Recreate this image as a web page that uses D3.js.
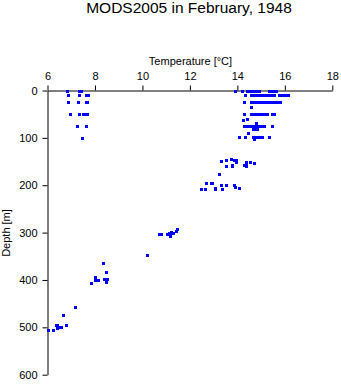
<!DOCTYPE html>
<html>
<head>
<meta charset="utf-8">
<script src="https://cdn.jsdelivr.net/npm/d3@7/dist/d3.min.js"></script>
<style>
  html, body { margin: 0; padding: 0; background: #fff; }
  svg { display: block; font-family: "Liberation Sans", Arial, Helvetica, sans-serif; }
</style>
</head>
<body>
<svg id="chart" width="341" height="384"></svg>
<script>
// ---- Data (temperature °C, depth m) ----
const titleText = "MODS2005 in February, 1948";
const xLabel = "Temperature [\u00B0C]";
const yLabel = "Depth [m]";
const xTicks = [6, 8, 10, 12, 14, 16, 18];
const yTicks = [0, 100, 200, 300, 400, 500, 600];

const temps = [
  // left surface group
  6.81, 7.33, 7.40,
  6.88, 7.34, 7.62, 7.70,
  6.88, 7.30, 7.61, 7.65,
  6.94, 7.34, 7.51, 7.58, 7.65,
  7.26, 7.64,
  7.47,
  // right surface group, 0 m
  13.90, 14.21, 14.40, 14.50, 14.60, 14.70, 14.80, 14.92, 15.33, 15.45, 15.55, 15.62,
  // 10 m
  14.34, 14.56, 14.66, 14.76, 14.86, 14.95, 15.08, 15.16, 15.30, 15.40, 15.50, 15.56,
  15.75, 15.85, 15.95, 16.05, 16.14,
  // 25 m
  14.29, 14.56, 14.66, 14.76, 14.86, 14.96, 15.06, 15.16, 15.29, 15.40, 15.52, 15.60, 15.70, 15.80,
  // 35 m
  14.59,
  // 50 m
  14.27, 14.58, 14.67, 14.77, 14.87, 14.97, 15.07, 15.17, 15.26, 15.47, 15.56,
  // 55-70 m
  14.42, 14.23, 14.79, 14.27,
  // 75 m
  14.42, 14.52, 14.62, 14.72, 14.82, 14.92, 15.02, 15.13, 15.45,
  // 80 m
  14.66, 14.75, 14.83,
  // 90-105 m
  14.44, 14.06, 14.32, 14.65, 14.74, 14.83, 14.93, 15.03, 15.35, 14.70,
  // 145-160 m
  13.32, 13.53, 13.75, 13.85, 13.96, 13.96, 14.38, 14.38, 14.27, 14.38, 14.55, 14.71,
  13.79, 13.76, 13.53,
  // 175-210 m
  13.21, 12.69, 12.88, 12.95, 13.30, 13.52, 13.86, 13.91, 14.06,
  12.48, 12.65, 13.07, 13.05, 13.34,
  // ~300 m
  10.71, 10.78, 11.05, 11.12, 11.19, 11.26, 11.16, 11.30, 11.47, 11.40,
  10.18,
  // ~400 m
  8.35, 8.47, 8.02, 8.02, 8.13, 8.39, 8.51, 8.47, 7.83,
  // ~500 m
  7.17, 6.67, 6.36, 6.41, 6.50, 6.56, 6.39, 6.79, 6.24, 6.03
];

const depths = [
  0, 0, 0,
  10, 10, 10, 10,
  25, 25, 25, 25,
  50, 50, 50, 50, 50,
  75, 75,
  101,
  0, 0, 0, 0, 0, 0, 0, 0, 0, 0, 0, 0,
  10, 10, 10, 10, 10, 10, 10, 10, 10, 10, 10, 10,
  10, 10, 10, 10, 10,
  25, 25, 25, 25, 25, 25, 25, 25, 25, 25, 25, 25, 25, 25,
  35,
  50, 50, 50, 50, 50, 50, 50, 50, 50, 50, 50,
  61, 62, 69, 74,
  75, 75, 75, 75, 75, 75, 75, 75, 75,
  81, 81, 81,
  90, 98, 98, 98, 98, 98, 98, 98, 98, 103,
  148, 147, 145, 147, 147, 150, 151, 155, 157, 160, 150, 154,
  157, 160, 160,
  177, 196, 196, 196, 200, 200, 200, 203, 205,
  209, 209, 206, 209, 209,
  303, 303, 304, 300, 298, 300, 307, 300, 292, 296,
  348,
  365, 383, 394, 400, 400, 398, 398, 404, 407,
  458, 475, 496, 496, 499, 499, 502, 496, 506, 506
];

// ---- Layout ----
const svg = d3.select("#chart");
const x = d3.scaleLinear().domain([6, 18]).range([47.5, 332.3]);
const y = d3.scaleLinear().domain([0, 600]).range([90.5, 374.7]);

svg.append("text")
  .attr("x", 189).attr("y", 13)
  .attr("text-anchor", "middle")
  .attr("font-size", 15.5)
  .text(titleText);

svg.append("text")
  .attr("x", 190.5).attr("y", 64.5)
  .attr("text-anchor", "middle")
  .attr("font-size", 11)
  .text(xLabel);

svg.append("text")
  .attr("transform", "translate(9.5,233) rotate(-90)")
  .attr("text-anchor", "middle")
  .attr("font-size", 11)
  .text(yLabel);

const xAxis = d3.axisTop(x).tickValues(xTicks).tickSize(5).tickSizeOuter(0).tickPadding(6)
  .tickFormat(d3.format("d"));
svg.append("g").attr("transform", `translate(0,${y(0)})`).call(xAxis)
  .call(g => g.selectAll("text").attr("font-size", 11).attr("fill", "#000").attr("font-family", null))
  .call(g => g.selectAll("line, path").attr("stroke", "#000"));

const yAxis = d3.axisLeft(y).tickValues(yTicks).tickSize(5).tickSizeOuter(0).tickPadding(5)
  .tickFormat(d3.format("d"));
svg.append("g").attr("transform", `translate(${x(6)},0)`).call(yAxis)
  .call(g => g.selectAll("text").attr("font-size", 11).attr("fill", "#000").attr("font-family", null))
  .call(g => g.selectAll("line, path").attr("stroke", "#000"));

// ---- Points ----
const pts = temps.map((t, i) => ({ t, d: depths[i] }));
svg.append("g").selectAll("rect").data(pts).join("rect")
  .attr("x", p => Math.round(x(p.t)) - 1.5)
  .attr("y", p => Math.round(y(p.d)) - 1.5)
  .attr("width", 3).attr("height", 3)
  .attr("fill", "#0000ff")
  .attr("shape-rendering", "crispEdges");
</script>
</body>
</html>
